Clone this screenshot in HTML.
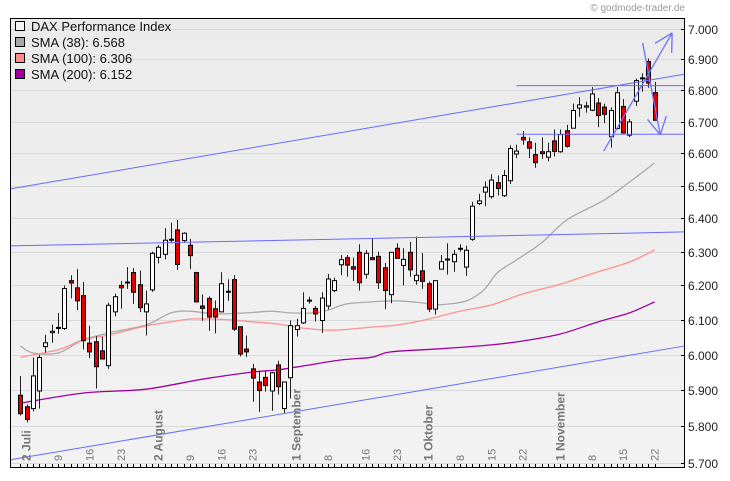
<!DOCTYPE html>
<html><head><meta charset="utf-8">
<style>
html,body{margin:0;padding:0;background:#fff;}
svg{display:block;font-family:"Liberation Sans",sans-serif;}
</style></head>
<body>
<svg id="chart" width="730" height="481" viewBox="0 0 730 481" xmlns="http://www.w3.org/2000/svg">
<defs>
<linearGradient id="bg" x1="0" y1="0" x2="0" y2="1">
<stop offset="0" stop-color="#ebebeb"/><stop offset="1" stop-color="#f2f2f2"/>
</linearGradient>
</defs>
<rect x="10" y="18" width="675" height="449" fill="url(#bg)"/>
<g id="grid"></g>
<g id="lines"></g>
<g id="candles"></g>
<g id="annot"></g>
<g id="axes"></g>
<text x="685" y="11" font-size="10" fill="#999" text-anchor="end">© godmode-trader.de</text>
<g font-size="13" fill="#111">
<rect x="15.5" y="21.5" width="9" height="9" fill="#f4f4f4" stroke="#000"/>
<text x="31" y="31">DAX Performance Index</text>
<rect x="15.5" y="37.5" width="9" height="9" fill="#a8a8a8" stroke="#000"/>
<text x="31" y="47">SMA (38): 6.568</text>
<rect x="15.5" y="53.5" width="9" height="9" fill="#ff8c8c" stroke="#000"/>
<text x="31" y="63">SMA (100): 6.306</text>
<rect x="15.5" y="69.5" width="9" height="9" fill="#a000a0" stroke="#000"/>
<text x="31" y="79">SMA (200): 6.152</text>
</g>
</svg>
<script>
const opens=[5886,5854,5849,5898,6023,6063,6076,6075,6214,6193,6170,6033,6037,6011,5969,6123,6200,6208,6238,6202,6123,6187,6283,6292,6335,6365,6333,6319,6238,6140,6162,6132,6123,6181,6217,6080,6016,5960,5923,5936,5898,5971,5849,5935,6072,6091,6155,6133,6098,6140,6185,6261,6282,6255,6298,6233,6282,6286,6252,6173,6310,6259,6298,6214,6243,6205,6131,6248,6276,6270,6308,6254,6337,6445,6480,6466,6509,6469,6515,6598,6650,6636,6596,6605,6588,6639,6605,6671,6679,6743,6746,6736,6759,6746,6652,6678,6748,6657,6765,6838,6893,6792];
const highs=[5940,5860,5992,6000,6057,6086,6120,6200,6230,6248,6210,6083,6053,6051,6149,6176,6213,6254,6251,6244,6185,6300,6320,6370,6387,6395,6358,6338,6240,6174,6168,6156,6239,6218,6230,6080,6055,5974,5955,5955,5952,5983,5923,6098,6103,6180,6167,6140,6180,6234,6223,6290,6290,6282,6322,6305,6340,6300,6266,6298,6325,6310,6329,6345,6296,6212,6214,6290,6325,6305,6322,6318,6450,6475,6513,6535,6531,6548,6625,6627,6670,6650,6633,6650,6633,6675,6675,6690,6757,6778,6763,6810,6775,6757,6745,6810,6772,6708,6838,6855,6903,6827];
const lows=[5830,5811,5841,5849,6006,6034,6060,6071,6162,6128,6015,5990,5905,5986,5960,6110,6132,6190,6146,6122,6055,6181,6265,6277,6325,6246,6326,6248,6150,6097,6068,6061,6123,6155,6068,5995,5993,5868,5840,5896,5843,5888,5836,5877,6052,6088,6147,6095,6062,6130,6180,6230,6226,6213,6185,6220,6276,6190,6131,6148,6280,6200,6225,6202,6190,6122,6115,6248,6232,6240,6300,6228,6332,6440,6437,6460,6470,6465,6505,6585,6627,6585,6555,6583,6575,6590,6602,6618,6679,6715,6728,6733,6682,6695,6618,6675,6664,6651,6750,6795,6808,6704];
const closes=[5835,5819,5940,5992,6034,6067,6078,6191,6207,6155,6040,6008,5966,5988,6142,6167,6193,6210,6180,6135,6146,6295,6313,6334,6337,6262,6355,6288,6152,6133,6108,6108,6205,6183,6073,6002,6008,5934,5899,5913,5949,5910,5923,6083,6083,6133,6157,6117,6163,6219,6214,6276,6260,6248,6208,6295,6276,6208,6185,6298,6280,6277,6246,6230,6212,6131,6214,6270,6278,6292,6310,6304,6437,6453,6495,6517,6491,6531,6615,6607,6642,6616,6571,6599,6605,6606,6659,6622,6735,6753,6750,6788,6719,6723,6735,6792,6664,6699,6831,6840,6823,6704];
const sma38Idx=[0,2,6,10,14,20,24,27,31,36,40,43,47,49,52,56,60,64,66,70,72,74,76,79,83,87,93,97,101];
const sma38Val=[6025,6005,6005,6042,6062,6085,6120,6125,6117,6120,6125,6120,6120,6128,6146,6152,6155,6149,6143,6150,6163,6190,6238,6275,6326,6395,6456,6511,6570];
const sma100Idx=[0,6,10,14,20,24,27,31,34,37,41,45,50,56,60,65,70,75,80,86,92,97,101];
const sma100Val=[5993,6014,6042,6056,6082,6094,6102,6102,6099,6094,6088,6076,6070,6079,6085,6102,6125,6143,6175,6204,6240,6269,6305];
const sma200Idx=[0,10,20,29,37,41,46,51,56,59,67,75,80,86,92,97,101];
const sma200Val=[5864,5892,5903,5931,5951,5957,5971,5985,5993,6008,6017,6028,6039,6059,6094,6120,6152];
const yTicks=[5700,5800,5900,6000,6100,6200,6300,6400,6500,6600,6700,6800,6900,7000];
const yTickLabels=["5.700","5.800","5.900","6.000","6.100","6.200","6.300","6.400","6.500","6.600","6.700","6.800","6.900","7.000"];
const xLabelIdx=[1,6,11,16,22,27,32,37,44,49,55,60,65,70,75,80,86,91,96,101];
const xLabels=["2 Juli","9","16","23","2 August","9","16","23","1 September","8","16","23","1 Oktober","8","15","22","1 November","8","15","22"];
const xLabelMonth=[1,0,0,0,1,0,0,0,1,0,0,0,1,0,0,0,1,0,0,0];
const trendStartIdx=[-1.6,-1.6,-1.6,79,79];
const trendStartVal=[6490,5709,6317,6815,6660];
const trendEndIdx=[105.8,105.8,105.8,105.8,105.8];
const trendEndVal=[6852,6025,6359,6815,6660];
const arrowFromIdx=[92.9,99.1];
const arrowFromVal=[6607,6954];
const arrowToIdx=[103.8,101.9];
const arrowToVal=[6987,6658];

const NS="http://www.w3.org/2000/svg";
const X=i=>20.3+6.28*i;
const Y=p=>29+2113*Math.log(7000/p);
function mk(tag,attrs,parent){const e=document.createElementNS(NS,tag);for(const k in attrs)e.setAttribute(k,attrs[k]);parent.appendChild(e);return e;}
const grid=document.getElementById('grid'),lines=document.getElementById('lines'),cg=document.getElementById('candles'),an=document.getElementById('annot'),ax=document.getElementById('axes');

yTicks.forEach((v,k)=>{
  const y=Math.round(Y(v))+0.5;
  const g=mk('line',{x1:10,x2:685,y1:y,y2:y,stroke:'#d9d9d9','stroke-width':1},grid);
  
  
  const t=mk('line',{x1:681,x2:685,y1:y,y2:y,stroke:'#000'},ax);
  
  
  const l=mk('text',{x:688,y:y+4.5,'font-size':12,fill:'#222'},ax);
  l.textContent=yTickLabels[k];
  
  
});

function sma(idx,val,color,name){
  const pts=idx.map((i,k)=>[X(i),Y(val[k])]);
  let d='M'+pts[0][0].toFixed(1)+','+pts[0][1].toFixed(1);
  for(let k=0;k<pts.length-1;k++){
    const p0=pts[Math.max(0,k-1)],p1=pts[k],p2=pts[k+1],p3=pts[Math.min(pts.length-1,k+2)];
    const c1x=p1[0]+(p2[0]-p0[0])/6,c1y=p1[1]+(p2[1]-p0[1])/6;
    const c2x=p2[0]-(p3[0]-p1[0])/6,c2y=p2[1]-(p3[1]-p1[1])/6;
    d+=' C'+c1x.toFixed(1)+','+c1y.toFixed(1)+' '+c2x.toFixed(1)+','+c2y.toFixed(1)+' '+p2[0].toFixed(1)+','+p2[1].toFixed(1);
  }
  const p=mk('path',{d:d,fill:'none',stroke:color,'stroke-width':1.3,'stroke-linejoin':'round'},lines);
  
  
}
sma(sma38Idx,sma38Val,'#aaaaaa','sma38-line');
sma(sma100Idx,sma100Val,'#ff9090','sma100-line');
sma(sma200Idx,sma200Val,'#a000a0','sma200-line');

trendStartIdx.forEach((s,k)=>{
  const l=mk('line',{x1:X(s),y1:Y(trendStartVal[k]),x2:X(trendEndIdx[k]),y2:Y(trendEndVal[k]),stroke:'#6a6aff','stroke-width':1},an);
  
  
});

opens.forEach((o,i)=>{
  const c=closes[i],x=Math.round(X(i))+0.5;
  const w=mk('line',{x1:x,x2:x,y1:Y(highs[i]),y2:Y(lows[i]),stroke:'#222','stroke-width':1},cg);
  
  
  const top=Y(Math.max(o,c)),bot=Y(Math.min(o,c));
  const r=mk('rect',{x:x-2,y:top,width:4,height:Math.max(1,bot-top),fill:c>=o?'#ffffff':'#e00000',stroke:'#000','stroke-width':1},cg);
  
  
});

arrowFromIdx.forEach((s,k)=>{
  const x1=X(s),y1=Y(arrowFromVal[k]),x2=X(arrowToIdx[k]),y2=Y(arrowToVal[k]);
  const l=mk('line',{x1:x1,y1:y1,x2:x2,y2:y2,stroke:'#7070ff','stroke-width':1.3},an);
  
  
  const a=Math.atan2(y2-y1,x2-x1),L=20;
  [0.5,-0.5].forEach((da,j)=>{
    const h=mk('line',{x1:x2,y1:y2,x2:x2-L*Math.cos(a+da),y2:y2-L*Math.sin(a+da),stroke:'#7070ff','stroke-width':1.3},an);
    
    
  });
});

const fr1=mk('line',{x1:10.5,x2:10.5,y1:18,y2:467.5,stroke:'#000'},ax);


const fr2=mk('line',{x1:684.5,x2:684.5,y1:18,y2:467.5,stroke:'#000'},ax);


const fr3=mk('line',{x1:10,x2:685,y1:467.5,y2:467.5,stroke:'#000'},ax);


const fr4=mk('line',{x1:10,x2:685,y1:18.5,y2:18.5,stroke:'#000'},ax);


opens.forEach((o,i)=>{
  const x=Math.round(X(i))+0.5;
  const t=mk('line',{x1:x,x2:x,y1:464,y2:467,stroke:'#000'},ax);
  
  
});
xLabelIdx.forEach((i,k)=>{
  const x=X(i)+4,y=461;
  const t=mk('text',{x:x,y:y,'font-size':xLabelMonth[k]?12:11,'font-weight':xLabelMonth[k]?'bold':'normal',fill:'#777','text-anchor':'start',transform:'rotate(-90 '+x+' '+y+')'},ax);
  t.textContent=xLabels[k];
  
  
});
</script>
</body></html>
